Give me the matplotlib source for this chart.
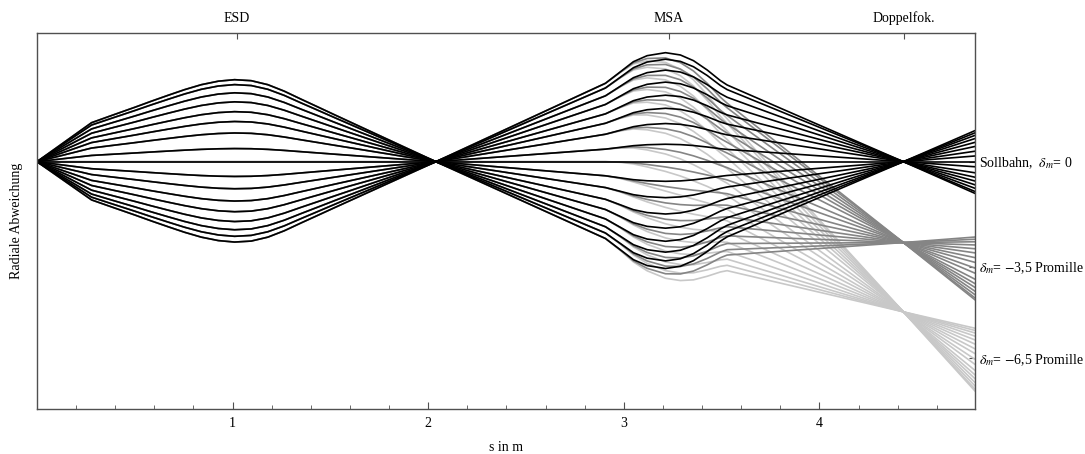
import numpy as np
import matplotlib
matplotlib.use("Agg")
import matplotlib.pyplot as plt

plt.rcParams["font.family"] = ["Liberation Serif", "DejaVu Serif"]
plt.rcParams["mathtext.fontset"] = "stix"

# position along the beamline (m)
S = [0.0, 0.279, 0.386, 0.5, 0.585, 0.672, 0.754, 0.84, 0.927, 1.01,
     1.095, 1.18, 1.264, 1.35, 1.437, 1.52, 2.039,
     2.906, 2.983, 3.049, 3.119, 3.213, 3.289, 3.356, 3.426, 3.494, 3.528,
     4.429, 4.795]
# outermost ray (angle fraction 1) for the reference momentum
RAY_MAX = [0.0, 3.9, 4.65, 5.44, 6.05, 6.65, 7.2, 7.7, 8.05, 8.2,
           8.1, 7.7, 7.05, 6.25, 5.46, 4.7, 0.0,
           7.84, 9.0, 10.0, 10.6, 10.9, 10.67, 10.1, 9.17, 8.1, 7.67,
           0.0, -3.17]
# dispersion per promille of momentum deviation
DISP = [0.0] * 17 + [0.0, 0.01, 0.035, 0.08, 0.15, 0.22, 0.295, 0.38,
                     0.475, 0.52, 2.31, 3.04]
# relative start angles of the drawn rays
FRACTIONS = [1.00, 0.94, 0.84, 0.73, 0.61, 0.49, 0.35, 0.16, 0.00,
             -0.18, -0.33, -0.48, -0.61, -0.73, -0.83, -0.91, -0.98]
DELTAS = [-6.5, -3.5, 0.0]
COLORS = ["#c8c8c8", "#858585", "#000000"]

TOP_POS = [1.02, 3.23, 4.43]
TOP_LABELS = ["ESD", "MSA", "Doppelfok."]
RIGHT_POS = [0.0, -10.5, -19.66]
RIGHT_LABELS = ["Sollbahn,  $\\delta_m$= 0",
                "$\\delta_m$= $-$3,5 Promille",
                "$\\delta_m$= $-$6,5 Promille"]

s = np.array(S)
m = np.array(RAY_MAX)
d = np.array(DISP)

fig = plt.figure(figsize=(10.85, 4.54), dpi=100)
ax = fig.add_axes([0.0341, 0.0991, 0.8645, 0.8276])

for delta, col in zip(DELTAS, COLORS):
    for a in FRACTIONS:
        ax.plot(s, a * m + delta * d, color=col, lw=1.2,
                solid_joinstyle="round")

ax.set_xlim(0, 4.795)
ax.set_ylim(-24.73, 12.84)
edge = "#505050"
for sp in ax.spines.values():
    sp.set_color(edge)
    sp.set_linewidth(1.0)

ax.set_xticks([1, 2, 3, 4])
ax.set_xticks(np.arange(0.2, 4.8, 0.2), minor=True)
ax.tick_params(axis="x", which="major", direction="in", length=5,
               color=edge, labelsize=10, pad=6)
ax.tick_params(axis="x", which="minor", direction="in", length=3, color=edge)
ax.set_xlabel("s in m", fontsize=10, labelpad=8)

ax.set_yticks(RIGHT_POS)
ax.set_yticklabels(RIGHT_LABELS)
ax.yaxis.tick_right()
ax.tick_params(axis="y", direction="in", length=4, color=edge,
               labelsize=10, pad=3)
ax.set_ylabel("Radiale Abweichung", fontsize=10, labelpad=10)
ax.yaxis.set_label_position("left")

top = ax.twiny()
top.set_xlim(ax.get_xlim())
top.set_xticks(TOP_POS)
top.set_xticklabels(TOP_LABELS)
top.tick_params(axis="x", direction="in", length=4, color=edge,
                labelsize=10, pad=6)
for sp in top.spines.values():
    sp.set_visible(False)

fig.savefig("out.png", dpi=100)
